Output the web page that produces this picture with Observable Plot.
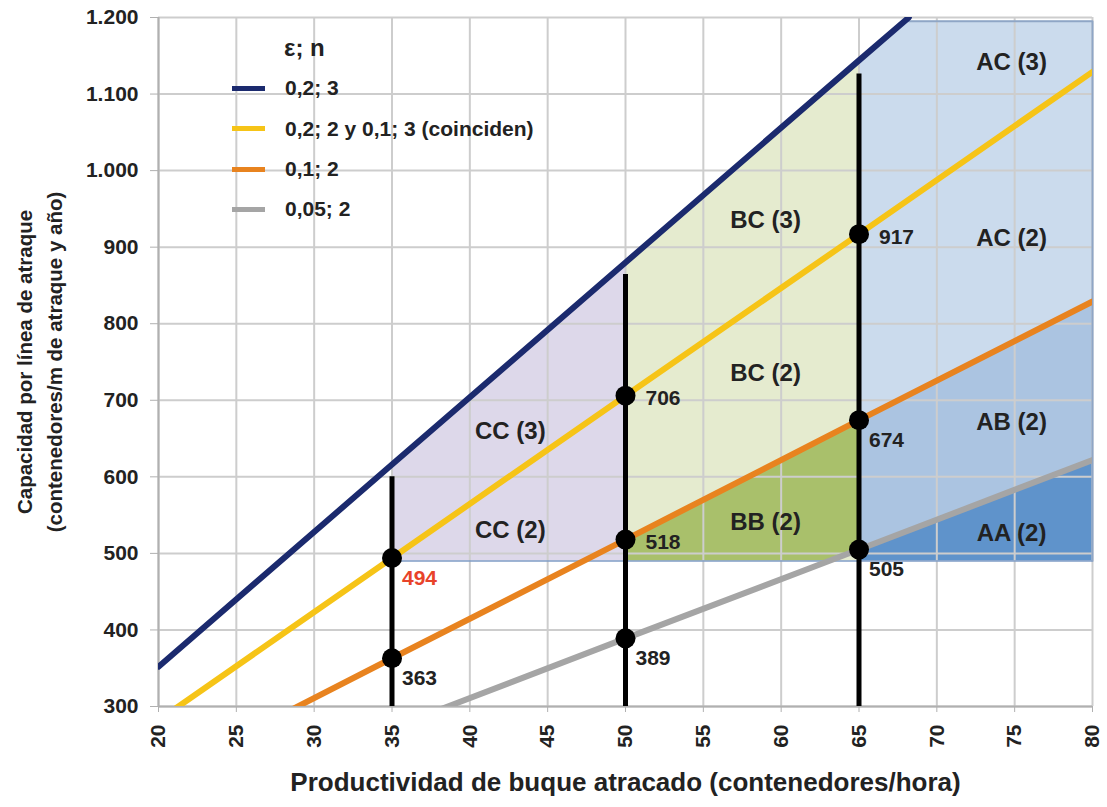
<!DOCTYPE html>
<html><head><meta charset="utf-8">
<script src="https://cdn.jsdelivr.net/npm/d3@7"></script>
<script src="https://cdn.jsdelivr.net/npm/@observablehq/plot@0.6"></script>
<style>
body{margin:0;background:#fff;font-family:"Liberation Sans",Arial,sans-serif;}
#wrap{position:relative;width:1107px;height:807px;overflow:hidden;}
#legend{position:absolute;left:232px;top:28px;font-weight:bold;font-size:21px;color:#222;line-height:40.3px;}
#legend .title{padding-left:52px;font-size:24px;}
#legend .row{display:flex;align-items:center;}
#legend .sw{width:33px;height:5px;margin-right:20px;}
</style></head><body>
<div id="wrap"><div id="chart"></div><div id="legend"></div></div>
<script>
// ---- data ----
const seriesNames = ["0,2; 3", "0,2; 2 y 0,1; 3 (coinciden)", "0,1; 2", "0,05; 2"];
const navyX = [20, 35, 50, 65, 68.2];
const navyY = [352, 616, 880, 1144, 1200];
const yellowX = [20, 35, 50, 65, 80];
const yellowY = [282, 494, 706, 917, 1129];
const orangeX = [20, 35, 50, 65, 80];
const orangeY = [207, 363, 518, 674, 829];
const grayX = [20, 35, 50, 65, 80];
const grayY = [155, 272, 389, 505, 622];

const baseY = 490;
const ccX = [35, 50], ccLow = [490, 490], ccHigh = [616, 880];
const bcX = [50, 65], bcLow = [490, 490], bcHigh = [880, 1144];
const bbX = [50, 63.5, 65], bbLow = [490, 490, 505], bbHigh = [518, 659, 674];
const acX = [65, 68.2, 80], acLow = [490, 490, 490], acHigh = [1144, 1195, 1195];
const abX = [65, 80], abLow = [505, 622], abHigh = [674, 829];
const aaX = [65, 80], aaLow = [490, 490], aaHigh = [505, 622];
const acBorderX = [68.2, 80, 80], acBorderY = [1195, 1195, 490];

const ruleXs = [35, 50, 65];
const ruleTops = [612, 876, 1138];

const pointX = [35, 35, 50, 50, 50, 65, 65, 65];
const pointY = [494, 363, 706, 518, 389, 917, 674, 505];
const pointLabel = ["494", "363", "706", "518", "389", "917", "674", "505"];
const pointSide = [false, false, true, true, false, true, false, false];

const regionNames = ["CC (3)", "CC (2)", "BC (3)", "BC (2)", "BB (2)", "AC (3)", "AC (2)", "AB (2)", "AA (2)"];
const regionX = [42.6, 42.6, 59, 59, 59, 74.8, 74.8, 74.8, 74.8];
const regionY = [660, 530, 935, 735, 540, 1141, 911, 671, 526];

const xTicks = [20, 25, 30, 35, 40, 45, 50, 55, 60, 65, 70, 75, 80];
const yTicks = [300, 400, 500, 600, 700, 800, 900, 1000, 1100, 1200];
const xTitle = "Productividad de buque atracado (contenedores/hora)";
const yTitle = "Capacidad por línea de atraque\n(contenedores/m de atraque y año)";

// ---- styles ----
const lineColors = ["#1b2a6e", "#f6c417", "#e8831f", "#a5a5a5"];
const fmt = d3.formatLocale({decimal: ",", thousands: ".", grouping: [3], currency: ["", ""]}).format(",");

const zip = (xs, ys) => xs.map((x, i) => ({x, y: ys[i]}));
const band = (xs, lo, hi) => xs.map((x, i) => ({x, y1: lo[i], y2: hi[i]}));
const series = [
  zip(navyX, navyY), zip(yellowX, yellowY), zip(orangeX, orangeY), zip(grayX, grayY)
];
const points = pointX.map((x, i) => ({x, y: pointY[i], label: pointLabel[i], side: pointSide[i]}));
const regions = regionNames.map((name, i) => ({name, x: regionX[i], y: regionY[i]}));
const rules = ruleXs.map((x, i) => ({x, top: ruleTops[i]}));

const font = "Liberation Sans, Arial, sans-serif";
const chart = Plot.plot({
  width: 1107, height: 807,
  marginLeft: 158, marginRight: 15, marginTop: 17, marginBottom: 101,
  style: {fontFamily: font, background: "#fff", overflow: "visible"},
  x: {domain: [20, 80]},
  y: {domain: [300, 1200]},
  marks: [
    Plot.areaY(band(ccX, ccLow, ccHigh), {x: "x", y1: "y1", y2: "y2", fill: "#ddd8ea"}),
    Plot.areaY(band(bcX, bcLow, bcHigh), {x: "x", y1: "y1", y2: "y2", fill: "#e5ebcf"}),
    Plot.areaY(band(bbX, bbLow, bbHigh), {x: "x", y1: "y1", y2: "y2", fill: "#a9c06b"}),
    Plot.areaY(band(acX, acLow, acHigh), {x: "x", y1: "y1", y2: "y2", fill: "#cbdbed"}),
    Plot.areaY(band(abX, abLow, abHigh), {x: "x", y1: "y1", y2: "y2", fill: "#abc4e1"}),
    Plot.areaY(band(aaX, aaLow, aaHigh), {x: "x", y1: "y1", y2: "y2", fill: "#5f93cb"}),
    Plot.gridX(xTicks, {stroke: "#cdcdcd", strokeOpacity: 1, strokeWidth: 2}),
    Plot.gridY(yTicks, {stroke: "#cdcdcd", strokeOpacity: 1, strokeWidth: 2}),
    Plot.ruleX([20], {stroke: "#b0b0b0", strokeWidth: 2}),
    Plot.ruleY([300], {stroke: "#b0b0b0", strokeWidth: 2}),
    Plot.line(zip(acBorderX, acBorderY), {x: "x", y: "y", stroke: "#8fa6c6", strokeWidth: 2}),
    Plot.ruleY([baseY], {x1: 35, x2: 80, stroke: "#7f9cc6", strokeWidth: 1.5}),
    Plot.axisX({ticks: xTicks, tickRotate: -90, tickSize: 6, tickPadding: 12, label: null, stroke: "#b0b0b0",
      fontSize: 21, fontWeight: "bold", fill: "#222", textAnchor: "end"}),
    Plot.axisY({ticks: yTicks, tickFormat: fmt, tickSize: 8, tickPadding: 12, label: null,
      fontSize: 21, fontWeight: "bold", fill: "#222", stroke: "#b0b0b0"}),
    ...series.slice().reverse().map((d, j) => Plot.line(d, {x: "x", y: "y", stroke: lineColors[3 - j], strokeWidth: 6, clip: true})),
    Plot.ruleX(rules, {x: "x", y1: 300, y2: "top", stroke: "#000", strokeWidth: 5, insetBottom: -9}),
    Plot.dot(points, {x: "x", y: "y", r: 10, fill: "#000"}),
    Plot.text(points, {filter: d => d.side, x: "x", y: "y", text: "label", textAnchor: "start", dx: 20, dy: 3,
      fontSize: 21, fontWeight: "bold", fill: "#222"}),
    Plot.text(points, {filter: d => !d.side, x: "x", y: "y", text: "label", textAnchor: "start", dx: 10, dy: 20,
      fontSize: 21, fontWeight: "bold", fill: d => d.label === "494" ? "#e8432a" : "#222"}),
    Plot.text(regions, {x: "x", y: "y", text: "name", fontSize: 24, fontWeight: "bold", fill: "#222"}),
    Plot.text([yTitle], {frameAnchor: "left", textAnchor: "middle", rotate: -90, dx: -121, fontSize: 20.5, fontWeight: "bold",
      fill: "#222", lineHeight: 1.45}),
    Plot.text([xTitle], {frameAnchor: "bottom", textAnchor: "middle", dy: 84, fontSize: 26, fontWeight: "bold",
      fill: "#222"})
  ]
});
document.getElementById("chart").append(chart);

const legend = document.getElementById("legend");
legend.innerHTML = `<div class="title">&epsilon;; n</div>` +
  seriesNames.map((n, i) => `<div class="row"><span class="sw" style="background:${lineColors[i]}"></span>${n}</div>`).join("");
</script>
</body></html>
